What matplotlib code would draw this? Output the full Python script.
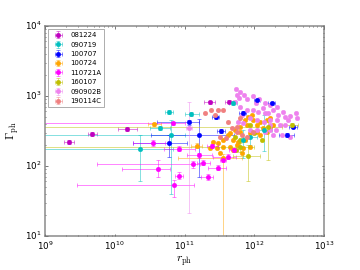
import numpy as np
import matplotlib
matplotlib.use('Agg')
import matplotlib.pyplot as plt

plt.style.use('classic')
plt.rcParams['mathtext.fontset'] = 'dejavusans'
plt.rcParams['legend.numpoints'] = 1

# ---- 081224 ----
g081224_x = [2.2e9, 4.7e9, 1.5e10, 2.3e11, 4.3e11]
g081224_y = [220, 287, 334, 813, 830]
g081224_xlo = [1.9e9, 4.1e9, 1.1e10, 1.9e11, 3.8e11]
g081224_xhi = [2.6e9, 5.5e9, 2.1e10, 2.7e11, 4.9e11]
g081224_ylo = [205, 270, 315, 770, 790]
g081224_yhi = [235, 305, 355, 860, 870]

# ---- 090719 ----
g090719_x = [5.9e10, 4.5e10, 6.3e10, 2.3e10, 1.24e11, 4.95e11, 1.39e12, 8.7e11, 6.9e11]
g090719_y = [597, 346, 277, 175, 548, 800, 327, 260, 235]
g090719_xlo = [5.2e10, 3.2e10, 5e8, 3e8, 1.0e11, 4.3e11, 1.1e12, 7e11, 6e11]
g090719_xhi = [6.8e10, 6.1e10, 1.0e11, 6.8e10, 1.6e11, 5.7e11, 1.8e12, 1.1e12, 8e11]
g090719_ylo = [560, 325, 40, 61, 510, 750, 165, 200, 130]
g090719_yhi = [640, 370, 460, 277, 590, 850, 540, 330, 330]

# ---- 100707 ----
g100707_x = [5.9e10, 1.16e11, 1.6e11, 6.8e11, 1.08e12, 1.78e12, 3.6e12, 2.95e12, 3.3e11, 2.8e11]
g100707_y = [215, 421, 280, 566, 877, 787, 364, 275, 316, 497]
g100707_xlo = [1.85e10, 4e10, 3.3e10, 6e11, 9.8e11, 1.6e12, 3.2e12, 2.3e12, 2.9e11, 2.5e11]
g100707_xhi = [1.07e11, 1.6e11, 5.2e11, 7.7e11, 1.2e12, 2.0e12, 4.1e12, 3.7e12, 3.8e11, 3.1e11]
g100707_ylo = [133, 390, 70, 530, 840, 750, 345, 255, 300, 470]
g100707_yhi = [277, 455, 470, 600, 910, 820, 385, 295, 335, 525]

# ---- 100724 ----
g100724_x = [3.7e10, 1.5e11, 3.56e11]
g100724_y = [394, 195, 130]
g100724_xlo = [3.0e10, 1.25e11, 8.1e10]
g100724_xhi = [4.6e10, 1.8e11, 6.6e11]
g100724_ylo = [375, 180, 3]
g100724_yhi = [415, 210, 150]
g100724_cx = [4.49e11, 5.3e11, 6.25e11, 7.8e11, 9.7e11, 1.21e12, 1.51e12, 1.68e12, 1.35e12,
              1.08e12, 8.7e11, 7.4e11, 5.9e11, 5.0e11, 4.25e11, 3.6e11, 3.05e11, 2.6e11,
              2.9e11, 3.6e11, 4.5e11, 2.3e11, 3.2e11, 5.6e11, 7.0e11, 8.7e11, 6.6e11,
              5.0e11, 1.21e12, 1.51e12, 1.68e12, 1.88e12, 1.08e12, 9.2e11, 8.2e11, 7.4e11, 6.25e11]
g100724_cy = [293, 327, 364, 385, 454, 429, 454, 480, 346,
              309, 293, 235, 222, 235, 277, 235, 211, 222,
              179, 185, 185, 179, 152, 200, 179, 189, 152,
              169, 277, 309, 364, 385, 385, 535, 506, 454, 309]

# ---- 110721A ----
g110721_x = [6.8e10, 3.5e10, 4.2e10, 1.34e11, 7e10, 8.3e10, 2.15e11, 1.6e11, 1.87e11,
             3.05e11, 4.2e11, 8.3e10, 2.5e11, 5.1e11, 3.6e11]
g110721_y = [407, 211, 91, 106, 54, 73, 70, 142, 111, 95, 136, 177, 195, 170, 121]
g110721_xlo = [5e8, 1.85e10, 1.26e10, 5.6e9, 2.9e9, 7.2e10, 1.75e11, 1.1e11, 1.5e11,
               2.2e11, 2.6e11, 5e10, 2.1e11, 4.4e11, 3.2e11]
g110721_xhi = [1.0e11, 5.25e10, 6.2e10, 1.66e11, 1.38e11, 9.5e10, 2.6e11, 2.5e11, 2.3e11,
               4.0e11, 5.5e11, 1.4e11, 3.0e11, 5.9e11, 4.0e11]
g110721_ylo = [385, 190, 70, 95, 36, 65, 64, 130, 102, 88, 126, 165, 183, 160, 113]
g110721_yhi = [430, 235, 122, 118, 63, 81, 77, 155, 121, 103, 147, 190, 208, 181, 130]

# ---- 160107 ----
g160107_x = [1.57e12, 6.25e11, 8.2e11, 3.5e12]
g160107_y = [361, 187, 140, 385]
g160107_xlo = [5e8, 3e8, 4.9e11, 2.5e12]
g160107_xhi = [2.5e12, 1.0e12, 1.2e12, 4.2e12]
g160107_ylo = [122, 160, 60, 360]
g160107_yhi = [450, 215, 200, 410]
g160107_cx = [6.25e11, 8.7e11, 1.3e12, 1.0e12, 5.3e11, 5.5e11]
g160107_cy = [235, 385, 235, 296, 260, 169]

# ---- 090902B ----
g090902_x = [1.16e11]
g090902_y = [349]
g090902_xlo = [1.05e11]
g090902_xhi = [1.28e11]
g090902_ylo = [21.5]
g090902_yhi = [820]
g090902_cx = [5.5e11, 6.25e11, 7.1e11, 6.1e11, 7.8e11, 9.5e11, 1.06e12, 1.18e12, 1.42e12,
              1.35e12, 1.68e12, 2.14e12, 2.6e12, 2.76e12, 2.2e12, 3.26e12, 3.97e12, 3.07e12,
              2.34e12, 2.05e12, 2.48e12, 1.88e12, 1.68e12, 1.42e12, 1.14e12, 9.5e11, 7.8e11,
              6.6e11, 8.7e11, 1.08e12, 1.38e12, 1.68e12, 6.25e11, 5.3e11, 5.6e11, 1.88e12,
              1.59e12, 2.1e12, 2.76e12, 1.68e12, 1.42e12, 1.08e12, 8.7e11, 7.0e11, 5.9e11,
              4.06e12, 3.26e12]
g090902_cy = [1250, 1150, 1030, 927, 897, 1000, 787, 897, 802,
              667, 743, 703, 597, 506, 535, 518, 566, 454,
              385, 327, 277, 277, 385, 566, 597, 631, 631,
              535, 480, 454, 429, 454, 703, 829, 1030, 631,
              566, 454, 385, 327, 309, 327, 327, 407, 429,
              480, 257]

# ---- 190114C ----
g190114_x = [2.0e11, 2.4e11, 3.05e11, 3.6e11, 2.7e11, 6.25e11, 5.6e11, 4.75e11,
             5.6e11, 3.2e11, 4.0e11, 6.6e11, 7.8e11, 9.7e11, 4.25e11]
g190114_y = [566, 631, 631, 631, 535, 480, 364, 346, 309, 262, 249, 277, 262, 309, 429]

fig = plt.figure(figsize=(8, 6), dpi=45)
ax = fig.add_subplot(111)
fig.subplots_adjust(left=0.125, right=0.9, bottom=0.126, top=0.904)

MS = 7.5


def draw_err(x, y, xlo, xhi, ylo, yhi, color, label=None):
    x, y = np.array(x), np.array(y)
    xerr = [x - np.array(xlo), np.array(xhi) - x]
    yerr = [y - np.array(ylo), np.array(yhi) - y]
    cont = ax.errorbar(x, y, xerr=xerr, yerr=yerr, fmt='o', color=color, mec=color,
                       ms=MS, capsize=3, elinewidth=1.5, capthick=1.5, label=label)
    for art in list(cont[1]) + list(cont[2]):
        art.set_alpha(0.5)


def draw_pts(x, y, color):
    ax.plot(x, y, 'o', color=color, mec=color, ms=MS)


draw_err(g081224_x, g081224_y, g081224_xlo, g081224_xhi, g081224_ylo, g081224_yhi, 'm', '081224')
draw_err(g090719_x, g090719_y, g090719_xlo, g090719_xhi, g090719_ylo, g090719_yhi, 'c', '090719')
draw_err(g100707_x, g100707_y, g100707_xlo, g100707_xhi, g100707_ylo, g100707_yhi, 'b', '100707')
draw_err(g100724_x, g100724_y, g100724_xlo, g100724_xhi, g100724_ylo, g100724_yhi, 'orange', '100724')
draw_pts(g100724_cx, g100724_cy, 'orange')
draw_err(g110721_x, g110721_y, g110721_xlo, g110721_xhi, g110721_ylo, g110721_yhi, 'magenta', '110721A')
draw_err(g160107_x, g160107_y, g160107_xlo, g160107_xhi, g160107_ylo, g160107_yhi, 'y', '160107')
draw_pts(g160107_cx, g160107_cy, 'y')
draw_err(g090902_x, g090902_y, g090902_xlo, g090902_xhi, g090902_ylo, g090902_yhi, 'violet', '090902B')
draw_pts(g090902_cx, g090902_cy, 'violet')
draw_err(g190114_x, g190114_y, g190114_x, g190114_x, g190114_y, g190114_y, 'lightcoral', '190114C')

ax.set_xscale('log')
ax.set_yscale('log')
ax.set_xlim(1e9, 1e13)
ax.set_ylim(1e1, 1e4)
ax.tick_params(labelsize=14)
ax.tick_params(axis='x', pad=5)
ax.tick_params(axis='y', pad=6)
for sp in ax.spines.values():
    sp.set_linewidth(2.5)
    sp.set_color('0.55')
ax.tick_params(which='both', color='0.45', width=1.5)
ax.set_xlabel(r'$r_{\rm ph}$', math_fontfamily='cm', fontsize=19)
ax.set_ylabel(r'$\Gamma_{\rm ph}$', math_fontfamily='cm', fontsize=19)
leg = ax.legend(loc='upper left', fontsize=11)
leg.get_frame().set_edgecolor('0.5')

fig.savefig('out.png', dpi=45)
